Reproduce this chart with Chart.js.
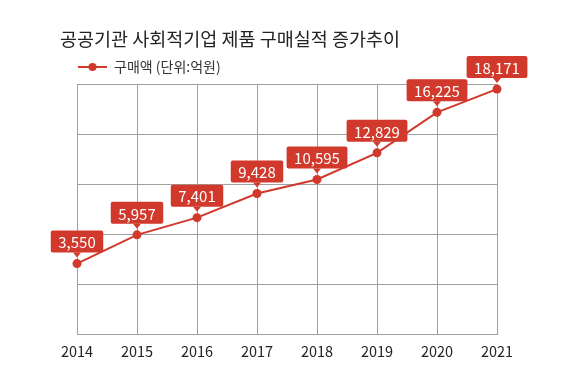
<!DOCTYPE html>
<html><head>
<meta charset="utf-8">
<title>공공기관 사회적기업 제품 구매실적 증가추이</title>
<script src="https://cdn.jsdelivr.net/npm/chart.js@4"></script>
<style>
html, body { margin: 0; padding: 0; background: #fff; }
#wrap { position: relative; width: 576px; height: 387px; }
#wrap canvas { position: absolute; left: 0; top: 0; }
#title { position: absolute; left: 60px; top: 26px; font: 18.5px "Noto Sans CJK KR", sans-serif; line-height: 24px; color: #222; white-space: nowrap; }
</style></head><body>
<div id="wrap">
<canvas id="chart" width="576" height="387"></canvas>
<div id="title">공공기관 사회적기업 제품 구매실적 증가추이</div>
</div>
<script>
const YEARS = ['2014', '2015', '2016', '2017', '2018', '2019', '2020', '2021'];
const PURCHASE = [3550, 5957, 7401, 9428, 10595, 12829, 16225, 18171]; // 억원
const SERIES_LABEL = '구매액 (단위:억원)';

// y range picked so the 5 grid bands sit like the original
const Y_MIN = -2400;
const Y_MAX = 18600;
const Y_STEP = 4200;

const RED = '#d0392b';
const GRID = '#a0a0a0';
const KR_FONT = '"Noto Sans CJK KR", sans-serif';

// legend swatch: short line with a dot in the middle
function legendMarker() {
  const c = document.createElement('canvas');
  c.width = 29; c.height = 10;
  const g = c.getContext('2d');
  g.strokeStyle = RED; g.lineWidth = 2;
  g.beginPath(); g.moveTo(0, 5); g.lineTo(29, 5); g.stroke();
  g.fillStyle = RED;
  g.beginPath(); g.arc(14.5, 5, 4, 0, Math.PI * 2); g.fill();
  return c;
}

// red value tags with a small pointer above each point
const valueTags = {
  id: 'valueTags',
  afterDatasetsDraw(chart) {
    const ctx = chart.ctx;
    const meta = chart.getDatasetMeta(0);
    ctx.save();
    ctx.font = '15px ' + KR_FONT;
    meta.data.forEach((pt, i) => {
      const text = PURCHASE[i].toLocaleString('en-US');
      const w = ctx.measureText(text).width + 15;
      const h = 22;
      const bottom = pt.y - 11;
      ctx.fillStyle = RED;
      ctx.beginPath();
      ctx.roundRect(pt.x - w / 2, bottom - h, w, h, 2);
      ctx.fill();
      ctx.beginPath();
      ctx.moveTo(pt.x - 4, bottom);
      ctx.lineTo(pt.x + 4, bottom);
      ctx.lineTo(pt.x, bottom + 5);
      ctx.closePath();
      ctx.fill();
      ctx.fillStyle = '#fff';
      ctx.textAlign = 'center';
      ctx.textBaseline = 'middle';
      ctx.fillText(text, pt.x, bottom - h / 2 + 1);
    });
    ctx.restore();
  }
};

new Chart(document.getElementById('chart'), {
  type: 'line',
  data: {
    labels: YEARS,
    datasets: [{
      label: SERIES_LABEL,
      data: PURCHASE,
      borderColor: RED,
      backgroundColor: RED,
      borderWidth: 2,
      pointRadius: 4.5,
      pointBorderWidth: 0,
      pointBackgroundColor: RED,
      tension: 0,
      clip: false,
    }]
  },
  options: {
    responsive: false,
    animation: false,
    layout: { padding: { left: 69, right: 79, top: 51, bottom: 19 } },
    plugins: {
      tooltip: { enabled: false },
      legend: {
        position: 'top', align: 'start',
        labels: {
          usePointStyle: true, pointStyle: legendMarker(), pointStyleWidth: 29,
          padding: 9, color: '#333',
          font: { size: 14, family: KR_FONT }
        }
      }
    },
    scales: {
      x: {
        offset: false,
        grid: { color: GRID, drawTicks: false },
        border: { color: GRID },
        ticks: { padding: 8, color: '#222', font: { size: 14.5, family: KR_FONT } },
        afterFit(s) { s.paddingLeft = 0; s.paddingRight = 0; }
      },
      y: {
        min: Y_MIN, max: Y_MAX,
        ticks: { display: false, stepSize: Y_STEP },
        grid: { color: GRID, drawTicks: false },
        border: { color: GRID },
        afterFit(s) { s.width = 8; }
      }
    }
  },
  plugins: [valueTags]
});
</script>
</body></html>
